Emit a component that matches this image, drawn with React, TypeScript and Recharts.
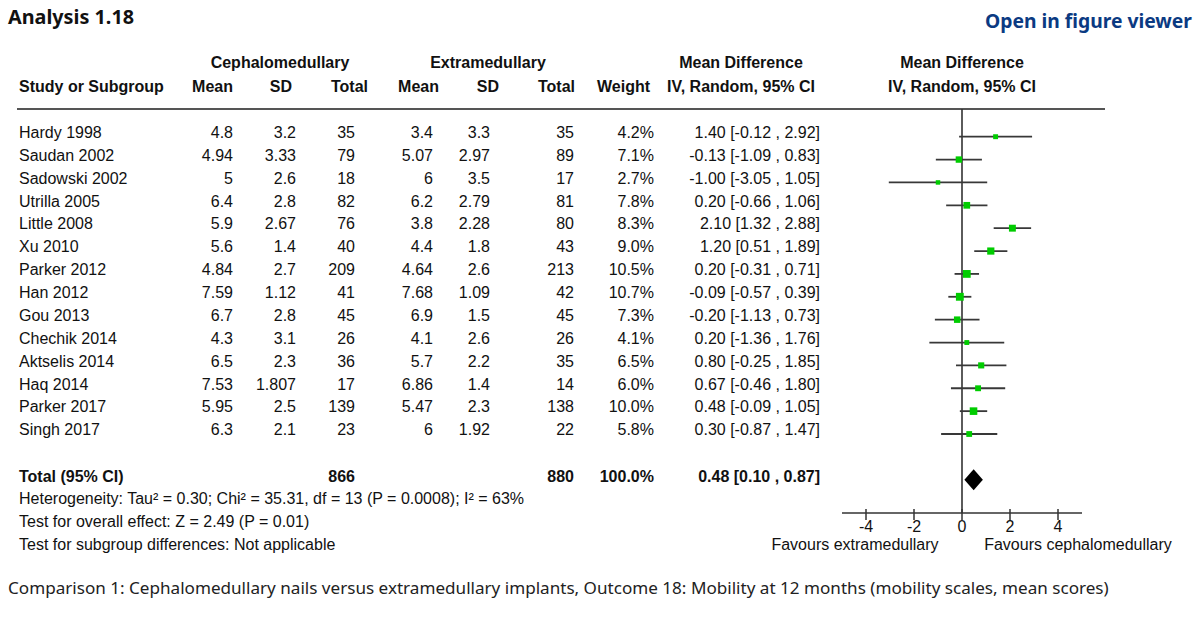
import React from "react";
import { ComposedChart, Scatter, XAxis, YAxis, ErrorBar, ReferenceLine, ReferenceArea } from "recharts";

// study rows
const studies = [
  "Hardy 1998", "Saudan 2002", "Sadowski 2002", "Utrilla 2005", "Little 2008", "Xu 2010", "Parker 2012",
  "Han 2012", "Gou 2013", "Chechik 2014", "Aktselis 2014", "Haq 2014", "Parker 2017", "Singh 2017",
]
const cephMean = ["4.8", "4.94", "5", "6.4", "5.9", "5.6", "4.84", "7.59", "6.7", "4.3", "6.5", "7.53", "5.95", "6.3"]
const cephSD = ["3.2", "3.33", "2.6", "2.8", "2.67", "1.4", "2.7", "1.12", "2.8", "3.1", "2.3", "1.807", "2.5", "2.1"]
const cephTotal = [35, 79, 18, 82, 76, 40, 209, 41, 45, 26, 36, 17, 139, 23]
const extMean = ["3.4", "5.07", "6", "6.2", "3.8", "4.4", "4.64", "7.68", "6.9", "4.1", "5.7", "6.86", "5.47", "6"]
const extSD = ["3.3", "2.97", "3.5", "2.79", "2.28", "1.8", "2.6", "1.09", "1.5", "2.6", "2.2", "1.4", "2.3", "1.92"]
const extTotal = [35, 89, 17, 81, 80, 43, 213, 42, 45, 26, 35, 14, 138, 22]
const weights = [4.2, 7.1, 2.7, 7.8, 8.3, 9.0, 10.5, 10.7, 7.3, 4.1, 6.5, 6.0, 10.0, 5.8]
const meanDiff = [1.4, -0.13, -1.0, 0.2, 2.1, 1.2, 0.2, -0.09, -0.2, 0.2, 0.8, 0.67, 0.48, 0.3]
const ciLow = [-0.12, -1.09, -3.05, -0.66, 1.32, 0.51, -0.31, -0.57, -1.13, -1.36, -0.25, -0.46, -0.09, -0.87]
const ciHigh = [2.92, 0.83, 1.05, 1.06, 2.88, 1.89, 0.71, 0.39, 0.73, 1.76, 1.85, 1.8, 1.05, 1.47]

// pooled result
const totalCeph = 866
const totalExt = 880
const totalWeight = 100.0
const totalMD = 0.48
const totalLow = 0.1
const totalHigh = 0.87
const totalRow = 15

const xTicks = [-4, -2, 0, 2, 4]
const footLines = [
  "Heterogeneity: Tau\u00b2 = 0.30; Chi\u00b2 = 35.31, df = 13 (P = 0.0008); I\u00b2 = 63%",
  "Test for overall effect: Z = 2.49 (P = 0.01)",
  "Test for subgroup differences: Not applicable",
]

const points = studies.map((s, i) => ({
  name: s,
  x: meanDiff[i],
  y: i,
  w: weights[i],
  err: [+(meanDiff[i] - ciLow[i]).toFixed(2), +(ciHigh[i] - meanDiff[i]).toFixed(2)],
}))

const fmt = (v: number) => v.toFixed(2)
const ciText = (m: number, l: number, h: number) => `${fmt(m)} [${fmt(l)} , ${fmt(h)}]`

const TABLE_FONT = '"Liberation Sans", Arial, sans-serif'
const ROW0 = 133
const ROW_GAP = 22.87

function T({ x, y, right, center, bold, children, size = 16 }: any) {
  const style: React.CSSProperties = {
    position: "absolute",
    top: y,
    transform: "translateY(-50%)",
    fontFamily: TABLE_FONT,
    fontSize: size,
    fontWeight: bold ? 700 : 400,
    color: "#111",
    whiteSpace: "nowrap",
    lineHeight: 1,
  }
  if (right) {
    style.right = 1200 - x
  } else if (center) {
    style.left = x
    style.transform = "translate(-50%, -50%)"
  } else {
    style.left = x
  }
  return <div style={style}>{children}</div>
}

const Square = (props: any) => {
  const { cx, cy, payload } = props
  const s = Math.max(4.5, 2.4 * Math.sqrt(payload.w))
  return <rect x={cx - s / 2} y={cy - s / 2} width={s} height={s} fill="#00cc00" />
}

const Diamond = (props: any) => {
  const { x, y, width, height } = props
  const pts = `${x},${y + height / 2} ${x + width / 2},${y} ${x + width},${y + height / 2} ${x + width / 2},${y + height}`
  return <polygon points={pts} fill="#000" />
}

const AxisTick = (props: any) => {
  const { x, y, payload } = props
  return (
    <g>
      <line x1={x} x2={x} y1={y - 4} y2={y + 7} stroke="#333" strokeWidth={1.5} />
      <text x={x} y={y + 19} textAnchor="middle" fontFamily={TABLE_FONT} fontSize={16} fill="#111">
        {payload.value}
      </text>
    </g>
  )
}

// right edges of the numeric columns
const colCephMean = 233
const colCephSD = 296
const colCephTotal = 355
const colExtMean = 433
const colExtSD = 490
const colExtTotal = 574
const colWeight = 654
const colCI = 820

export default function App() {
  return (
    <div style={{ position: "absolute", left: 0, top: 0, width: 1200, height: 617, background: "#fff", overflow: "hidden" }}>
      <div style={{ position: "absolute", left: 8, top: 3, fontFamily: '"Noto Sans", sans-serif', fontWeight: 700, fontSize: 19.8, color: "#111" }}>
        Analysis 1.18
      </div>
      <div style={{ position: "absolute", right: 8, top: 7, fontFamily: '"Noto Sans", sans-serif', fontWeight: 700, fontSize: 19.3, color: "#0b3a82" }}>
        Open in figure viewer
      </div>

      <T x={280} y={63} center bold>Cephalomedullary</T>
      <T x={488} y={63} center bold>Extramedullary</T>
      <T x={741} y={63} center bold>Mean Difference</T>
      <T x={962} y={63} center bold>Mean Difference</T>

      <T x={19} y={87} bold>Study or Subgroup</T>
      <T x={colCephMean} y={87} right bold>Mean</T>
      <T x={292} y={87} right bold>SD</T>
      <T x={368} y={87} right bold>Total</T>
      <T x={439} y={87} right bold>Mean</T>
      <T x={499} y={87} right bold>SD</T>
      <T x={575} y={87} right bold>Total</T>
      <T x={650} y={87} right bold>Weight</T>
      <T x={741} y={87} center bold>IV, Random, 95% CI</T>
      <T x={962} y={87} center bold>IV, Random, 95% CI</T>

      <div style={{ position: "absolute", left: 17, top: 108, width: 1088, height: 2, background: "#555" }} />

      {studies.map((s, i) => {
        const y = ROW0 + i * ROW_GAP
        return (
          <React.Fragment key={s}>
            <T x={19} y={y}>{s}</T>
            <T x={colCephMean} y={y} right>{cephMean[i]}</T>
            <T x={colCephSD} y={y} right>{cephSD[i]}</T>
            <T x={colCephTotal} y={y} right>{cephTotal[i]}</T>
            <T x={colExtMean} y={y} right>{extMean[i]}</T>
            <T x={colExtSD} y={y} right>{extSD[i]}</T>
            <T x={colExtTotal} y={y} right>{extTotal[i]}</T>
            <T x={colWeight} y={y} right>{weights[i].toFixed(1)}%</T>
            <T x={colCI} y={y} right>{ciText(meanDiff[i], ciLow[i], ciHigh[i])}</T>
          </React.Fragment>
        )
      })}

      <T x={19} y={477} bold>Total (95% CI)</T>
      <T x={colCephTotal} y={477} right bold>{totalCeph}</T>
      <T x={colExtTotal} y={477} right bold>{totalExt}</T>
      <T x={colWeight} y={477} right bold>{totalWeight.toFixed(1)}%</T>
      <T x={colCI} y={477} right bold>{ciText(totalMD, totalLow, totalHigh)}</T>
      {footLines.map((l, i) => (
        <T key={l} x={19} y={499 + i * 23}>{l}</T>
      ))}

      <T x={855} y={545} center>Favours extramedullary</T>
      <T x={1078} y={545} center>Favours cephalomedullary</T>

      <div style={{ position: "absolute", left: 822, top: 100 }}>
        <ComposedChart width={280} height={443} margin={{ top: 9, right: 20, bottom: 0, left: 20 }}>
          <XAxis
            type="number"
            dataKey="x"
            domain={[-5, 5]}
            ticks={xTicks}
            allowDataOverflow
            height={30}
            axisLine={{ stroke: "#333", strokeWidth: 1.6 }}
            tickLine={false}
            tickSize={0}
            tickMargin={0}
            tick={<AxisTick />}
            interval={0}
          />
          <YAxis type="number" dataKey="y" domain={[-1.211, 16.454]} reversed hide allowDataOverflow />
          <ReferenceLine x={0} stroke="#333" strokeWidth={1.6} />
          <Scatter data={points} shape={<Square />} isAnimationActive={false}>
            <ErrorBar dataKey="err" direction="x" width={0} stroke="#383838" strokeWidth={1.8} />
          </Scatter>
          <ReferenceArea
            x1={totalLow}
            x2={totalHigh}
            y1={totalRow - 0.46}
            y2={totalRow + 0.46}
            shape={<Diamond />}
            ifOverflow="visible"
          />
        </ComposedChart>
      </div>

      <div style={{ position: "absolute", left: 8, top: 576, fontFamily: '"Noto Sans", sans-serif', fontSize: 17.1, color: "#222", whiteSpace: "nowrap" }}>
        Comparison 1: Cephalomedullary nails versus extramedullary implants, Outcome 18: Mobility at 12 months (mobility scales, mean scores)
      </div>
    </div>
  )
}
